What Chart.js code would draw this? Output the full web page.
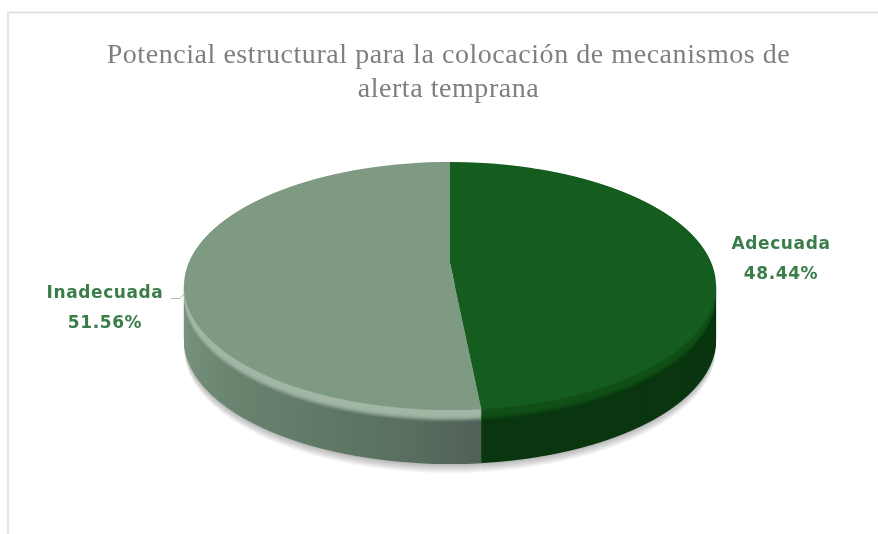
<!DOCTYPE html>
<html>
<head>
<meta charset="utf-8">
<title>Potencial estructural</title>
<script src="https://cdn.jsdelivr.net/npm/chart.js@4/dist/chart.umd.min.js"></script>
<style>
    html, body { margin: 0; background: #fff; }
    canvas { display: block; }
</style>
</head>
<body>
<canvas id="pie" width="878" height="534"></canvas>
<script>
var titleLines = ['Potencial estructural para la colocación de mecanismos de', 'alerta temprana'];
var categories = ['Adecuada', 'Inadecuada'];
var shares = [48.44, 51.56];
var faceColors = ['#155c1f', '#7f9a82'];
var rimColors = ['#115018', '#a2b7a5'];
var labelPositions = [[781, 249], [105, 298]];

// where the tilted disc lands on the page
var disc = { cx: 450, apexY: 263, above: 101, below: 147, halfWidth: 266, depth: 54 };
disc.k = (disc.above - disc.below) / (disc.above + disc.below);
disc.b = disc.above * (1 - disc.k);
disc.a = disc.halfWidth * Math.sqrt(1 - disc.k * disc.k);

// paints the arcs one pixel row at a time so the flat pie gets real perspective
function drawRows(ctx, arcs, shift, firstRow) {
    var R = arcs[0].outerRadius;
    var top = Math.round(disc.apexY - disc.above) - 1;
    var bottom = Math.round(disc.apexY + disc.below) + 1;
    for (var row = Math.max(top, firstRow); row <= bottom; row++) {
        var dy = row + 0.5 - disc.apexY;
        var v = dy / (disc.b - dy * disc.k);
        var w = 1 + disc.k * v;
        if (Math.abs(v) > 1.02) continue;
        var sx = disc.a / w / R;
        var sy = disc.b / (w * w) / R;
        ctx.save();
        ctx.beginPath();
        ctx.rect(0, row + shift, 878, 1);
        ctx.clip();
        ctx.transform(sx, 0, 0, sy, disc.cx - sx * arcs[0].x, row + shift + 0.5 - sy * (arcs[0].y + R * v));
        arcs.forEach(function (arc) { arc.draw(ctx); });
        ctx.restore();
    }
}

function paintWith(arcs, fills) {
    arcs.forEach(function (arc, i) {
        arc.options = Object.assign({}, arc.options, { backgroundColor: fills[i] });
    });
}

var tiltedPie = {
    id: 'tiltedPie',
    beforeDraw: function (chart) {
        // the title sits a little wider than the font alone
        chart.ctx.letterSpacing = '0.55px';
    },
    beforeDatasetsDraw: function (chart) {
        var ctx = chart.ctx;
        var arcs = chart.getDatasetMeta(0).data;
        var R = arcs[0].outerRadius;
        var widestRow = Math.round(disc.apexY + 20);
        var faces = arcs.map(function (arc) { return arc.options; });

        // soft shadow under the disc
        paintWith(arcs, ['#000', '#000']);
        ctx.globalAlpha = 0.035;
        for (var s = disc.depth + 9; s > disc.depth; s--) drawRows(ctx, arcs, s, widestRow);

        // side wall
        var lightSide = ctx.createLinearGradient(arcs[0].x - R, 0, arcs[0].x + R, 0);
        lightSide.addColorStop(0, '#7a957f');
        lightSide.addColorStop(0.12, '#6a8570');
        lightSide.addColorStop(0.3, '#5f7966');
        lightSide.addColorStop(0.45, '#586d5e');
        lightSide.addColorStop(0.56, '#505e57');
        ctx.globalAlpha = 1;
        paintWith(arcs, ['#0a3610', lightSide]);
        for (var d = disc.depth; d > 0; d--) drawRows(ctx, arcs, d, widestRow);

        // bevel on the rim, fading down the wall
        paintWith(arcs, rimColors);
        for (var b = 12; b > 0; b--) {
            ctx.globalAlpha = Math.min(1, (13 - b) / 10);
            drawRows(ctx, arcs, b, widestRow);
        }
        ctx.globalAlpha = 1;

        // top face
        arcs.forEach(function (arc, i) { arc.options = faces[i]; });
        drawRows(ctx, arcs, 0, 0);
        return false;
    },
    afterDraw: function (chart) {
        var ctx = chart.ctx;
        ctx.save();
        // chart frame
        ctx.strokeStyle = '#d9d9d9';
        ctx.lineWidth = 1.5;
        ctx.beginPath();
        ctx.moveTo(7, 12.5);
        ctx.lineTo(878, 12.5);
        ctx.stroke();
        ctx.strokeStyle = '#e6e6e6';
        ctx.lineWidth = 2;
        ctx.beginPath();
        ctx.moveTo(8, 534);
        ctx.lineTo(8, 12);
        ctx.stroke();

        // leader stub of the left label
        ctx.strokeStyle = '#b5b5b5';
        ctx.lineWidth = 1;
        ctx.beginPath();
        ctx.moveTo(171, 298.5);
        ctx.lineTo(180, 298.5);
        ctx.lineTo(184, 294);
        ctx.stroke();

        ctx.fillStyle = '#3a7d4a';
        ctx.font = 'bold 17px "DejaVu Sans"';
        ctx.letterSpacing = '0.6px';
        ctx.textAlign = 'center';
        categories.forEach(function (name, i) {
            var p = labelPositions[i];
            ctx.fillText(name, p[0], p[1]);
            ctx.fillText(shares[i].toFixed(2) + '%', p[0], p[1] + 30);
        });
        ctx.restore();
    }
};

new Chart(document.getElementById('pie'), {
    type: 'pie',
    data: {
        labels: categories,
        datasets: [{ data: shares, backgroundColor: faceColors, borderWidth: 0 }]
    },
    options: {
        responsive: false,
        animation: false,
        layout: { padding: { top: 29, left: 19 } },
        plugins: {
            legend: { display: false },
            tooltip: { enabled: false },
            title: {
                display: true,
                text: titleLines,
                color: '#7f7f7f',
                font: { family: '"Liberation Serif"', size: 28, weight: 'normal', lineHeight: 1.2 }
            }
        }
    },
    plugins: [tiltedPie]
});
</script>
</body>
</html>
